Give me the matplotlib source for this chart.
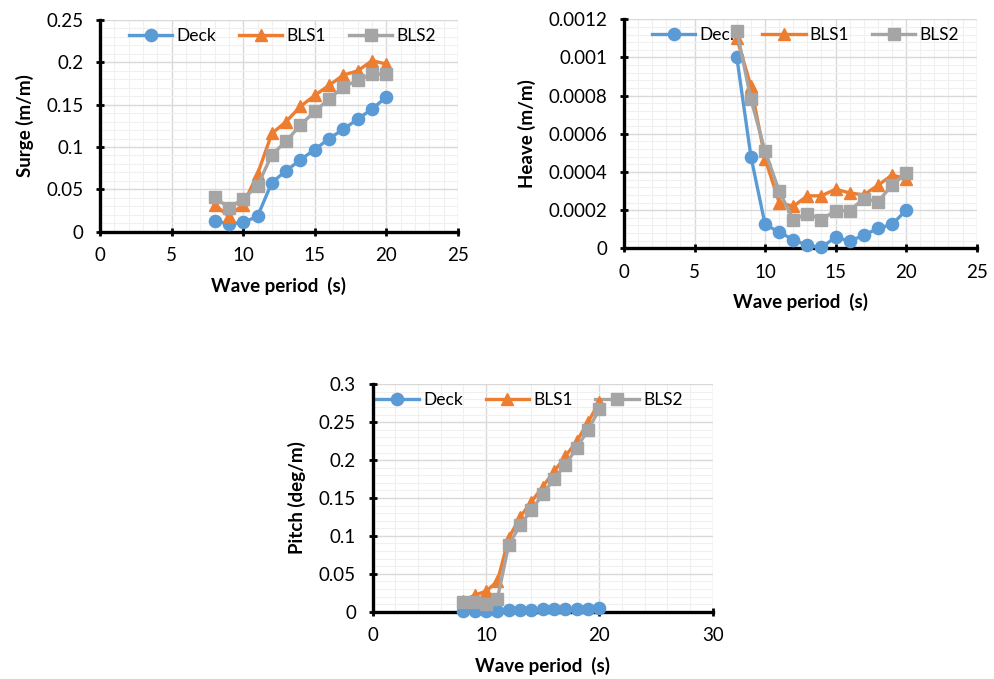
import matplotlib
matplotlib.use("Agg")
import matplotlib.pyplot as plt
from matplotlib.ticker import MultipleLocator, FuncFormatter
import numpy as np

plt.rcParams['font.family'] = ['Lato', 'DejaVu Sans']

periods = [8, 9, 10, 11, 12, 13, 14, 15, 16, 17, 18, 19, 20]

surge_deck = [0.013, 0.009, 0.011, 0.018, 0.058, 0.072, 0.085, 0.097, 0.110, 0.121, 0.133, 0.145, 0.159]
surge_bls1 = [0.032, 0.018, 0.032, 0.068, 0.116, 0.130, 0.148, 0.161, 0.173, 0.185, 0.190, 0.202, 0.198]
surge_bls2 = [0.041, 0.028, 0.039, 0.054, 0.091, 0.107, 0.126, 0.142, 0.157, 0.171, 0.179, 0.186, 0.186]

heave_deck = [0.00100, 0.00048, 0.000125, 0.000085, 0.000045, 0.000015, 0.000005, 0.000058, 0.000038, 0.000068, 0.000105, 0.000125, 0.000200]
heave_bls1 = [0.00110, 0.00085, 0.00047, 0.000240, 0.000220, 0.000275, 0.000275, 0.000310, 0.000290, 0.000280, 0.000330, 0.000384, 0.000365]
heave_bls2 = [0.00114, 0.00078, 0.00051, 0.000300, 0.000150, 0.000182, 0.000150, 0.000198, 0.000198, 0.000260, 0.000245, 0.000330, 0.000395]

pitch_deck = [0.0005, 0.0008, 0.0008, 0.0015, 0.0020, 0.0025, 0.0028, 0.0030, 0.0033, 0.0035, 0.0037, 0.0040, 0.0043]
pitch_bls1 = [0.014, 0.022, 0.027, 0.040, 0.097, 0.125, 0.145, 0.165, 0.185, 0.205, 0.225, 0.250, 0.277]
pitch_bls2 = [0.013, 0.013, 0.010, 0.017, 0.088, 0.114, 0.134, 0.155, 0.175, 0.194, 0.216, 0.240, 0.267]

series_names = ['Deck', 'BLS1', 'BLS2']
colors = ['#5B9BD5', '#ED7D31', '#A5A5A5']
markers = ['o', '^', 's']

fig = plt.figure(figsize=(9.95, 6.79), dpi=100)

def fmt(v, pos):
    return '{:g}'.format(round(v, 8))

def setup(ax, data, xmax, xmaj, xmin_, ymax, ymaj, ymin_, ylabel, legend_x):
    for i, (name, vals) in enumerate(zip(series_names, data)):
        ms = {'o': 8.8, '^': 8.8, 's': 8.3}[markers[i]]
        ax.plot(periods, vals, color=colors[i], marker=markers[i], markersize=ms,
                linewidth=2.4, label=name, zorder=3 + i, clip_on=False)
    ax.set_xlim(0, xmax)
    ax.set_ylim(0, ymax)
    ax.xaxis.set_major_locator(MultipleLocator(xmaj))
    ax.xaxis.set_minor_locator(MultipleLocator(xmin_))
    ax.yaxis.set_major_locator(MultipleLocator(ymaj))
    ax.yaxis.set_minor_locator(MultipleLocator(ymin_))
    ax.yaxis.set_major_formatter(FuncFormatter(fmt))
    ax.xaxis.set_major_formatter(FuncFormatter(fmt))
    ax.set_axisbelow(True)
    ax.grid(which='major', color='#D9D9D9', linewidth=1.0)
    ax.grid(which='minor', color='#F0F0F0', linewidth=0.8)
    for s in ['top', 'right']:
        ax.spines[s].set_visible(False)
    for s in ['left', 'bottom']:
        ax.spines[s].set_linewidth(2.4)
        ax.spines[s].set_color('black')
    ax.tick_params(which='major', direction='inout', length=6, width=2.0,
                   labelsize=13.5, colors='black')
    ax.tick_params(axis='y', which='major', pad=9)
    ax.tick_params(axis='x', which='major', pad=8)
    ax.tick_params(which='minor', length=0)
    ax.set_xlabel('Wave period  (s)', fontsize=13.5, fontweight='bold', labelpad=9)
    ax.set_ylabel(ylabel, fontsize=13.5, fontweight='bold', labelpad=9)
    leg = ax.legend(loc='upper center', ncol=3, frameon=False, fontsize=12.5,
                    handlelength=2.5, columnspacing=1.3, handletextpad=0.25,
                    bbox_to_anchor=(legend_x, 1.035))
    leg.set_zorder(2)

ax1 = fig.add_axes([0.1005, 0.6588, 0.3598, 0.3117])
setup(ax1, [surge_deck, surge_bls1, surge_bls2], 25, 5, 1, 0.25, 0.05, 0.01, 'Surge (m/m)', 0.51)

ax2 = fig.add_axes([0.6271, 0.6343, 0.3545, 0.3373])
setup(ax2, [heave_deck, heave_bls1, heave_bls2], 25, 5, 1, 0.0012, 0.0002, 0.00004, 'Heave (m/m)', 0.515)

ax3 = fig.add_axes([0.3746, 0.0991, 0.3417, 0.3349])
setup(ax3, [pitch_deck, pitch_bls1, pitch_bls2], 30, 10, 2, 0.3, 0.05, 0.01, 'Pitch (deg/m)', 0.46)

fig.savefig('out.png', dpi=100)
